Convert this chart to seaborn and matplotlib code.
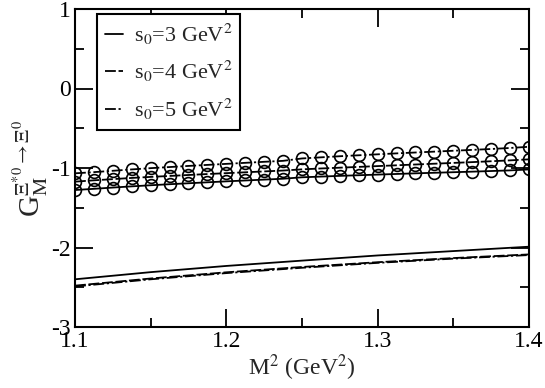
import matplotlib
matplotlib.use("Agg")
import matplotlib.pyplot as plt
import seaborn as sns
import pandas as pd
import numpy as np

# ---- data ----
m2_grid = [1.1, 1.1125, 1.125, 1.1375, 1.15, 1.1625, 1.175, 1.1875, 1.2, 1.2125,
           1.225, 1.2375, 1.25, 1.2625, 1.275, 1.2875, 1.3, 1.3125, 1.325, 1.3375,
           1.35, 1.3625, 1.375, 1.3875, 1.4]
circ_s5 = [-1.067, -1.052, -1.035, -1.018, -1.002, -0.988, -0.974, -0.961, -0.948, -0.935,
           -0.922, -0.91, -0.88, -0.866, -0.852, -0.84, -0.828, -0.816, -0.805, -0.794,
           -0.783, -0.772, -0.761, -0.748, -0.733]
circ_s4 = [-1.172, -1.155, -1.14, -1.125, -1.112, -1.1, -1.088, -1.076, -1.065, -1.054,
           -1.043, -1.032, -1.017, -1.006, -0.996, -0.986, -0.976, -0.966, -0.956, -0.946,
           -0.936, -0.926, -0.915, -0.904, -0.891]
circ_s3 = [-1.277, -1.262, -1.246, -1.231, -1.217, -1.204, -1.192, -1.18, -1.168, -1.157,
           -1.146, -1.135, -1.117, -1.108, -1.099, -1.091, -1.083, -1.075, -1.067, -1.06,
           -1.053, -1.046, -1.038, -1.03, -1.018]

m2_line = [1.1, 1.15, 1.2, 1.25, 1.3, 1.35, 1.4]
line_s3 = [-2.40, -2.31, -2.232, -2.165, -2.10, -2.045, -1.99]
line_s4 = [-2.48, -2.39, -2.312, -2.245, -2.185, -2.133, -2.087]
line_s5 = [-2.49, -2.40, -2.322, -2.255, -2.193, -2.140, -2.095]

labels = ["s$_0$=3 GeV$^2$", "s$_0$=4 GeV$^2$", "s$_0$=5 GeV$^2$"]
xticks = [1.1, 1.2, 1.3, 1.4]
yticks = [-3, -2, -1, 0, 1]

# ---- style ----
sns.set_style("ticks")
plt.rcParams['font.family'] = ['Liberation Serif', 'DejaVu Serif']
plt.rcParams['mathtext.fontset'] = 'stix'

fig = plt.figure(figsize=(5.45, 3.88), dpi=100)
ax = fig.add_axes([75/545, 1-327/388, (529-75)/545, (327-9)/388])

dash_styles = [None, (6, 1.5), (6, 1.5, 1.2, 1.5)]

lw = 1.3
circ_data = [circ_s3, circ_s4, circ_s5]
line_data = [line_s3, line_s4, line_s5]
for i in range(3):
    df = pd.DataFrame({"M2": m2_grid, "G": circ_data[i]})
    sns.lineplot(data=df, x="M2", y="G", ax=ax, color="black", lw=lw,
                 marker="o", markersize=8.5, markerfacecolor="none",
                 markeredgecolor="black", markeredgewidth=1.2)
    ln = ax.lines[-1]
    if dash_styles[i] is not None:
        ln.set_dashes(dash_styles[i])
for i in range(3):
    df = pd.DataFrame({"M2": m2_line, "G": line_data[i]})
    sns.lineplot(data=df, x="M2", y="G", ax=ax, color="black", lw=lw, label=labels[i])
    ln = ax.lines[-1]
    if dash_styles[i] is not None:
        ln.set_dashes(dash_styles[i])

ax.set_xlim(1.1, 1.4)
ax.set_ylim(-3, 1)
ax.set_xticks(xticks)
ax.set_xticklabels([f"{t:.1f}" for t in xticks])
ax.set_yticks(yticks)
ax.set_yticklabels([str(t) for t in yticks])
ax.set_xticks(np.arange(1.1, 1.4001, 0.05), minor=True)
ax.set_yticks(np.arange(-3, 1.001, 0.5), minor=True)
ax.tick_params(which='both', direction='in', top=True, right=True, labelsize=17,
               width=1.3, color='black', labelcolor='black')
ax.tick_params(which='major', length=13, pad=3)
ax.tick_params(which='minor', length=6.5)
for s in ax.spines.values():
    s.set_linewidth(1.5)
    s.set_color('black')
    s.set_visible(True)

ax.set_xlabel("M$^2$ (GeV$^2$)", fontsize=17, labelpad=0)
ax.set_ylabel(r"G$_\mathrm{M}^{\Xi^{*0}\rightarrow\Xi^0}$", fontsize=21, labelpad=0)

leg = ax.legend(loc='upper left', bbox_to_anchor=(22/454, 1-5/318), fontsize=16,
                frameon=True, fancybox=False, edgecolor='black', framealpha=1,
                handlelength=0.8, handletextpad=0.5, labelspacing=0.55,
                borderpad=0.35, borderaxespad=0)
leg.get_frame().set_linewidth(1.5)

fig.savefig("out.png", dpi=100)
